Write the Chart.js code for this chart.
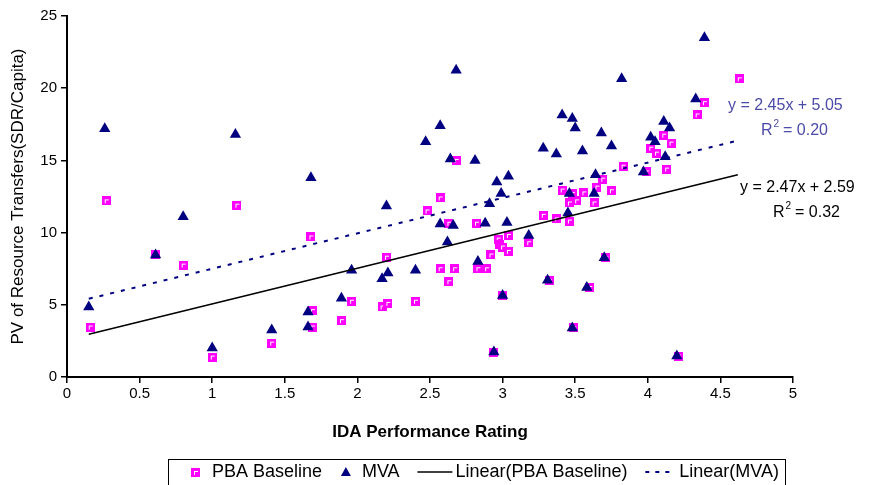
<!DOCTYPE html>
<html>
<head>
<meta charset="utf-8">
<script src="https://cdn.jsdelivr.net/npm/chart.js@4/dist/chart.umd.min.js"></script>
<style>
html, body { margin: 0; padding: 0; background: #fff; }
#wrap { width: 875px; height: 485px; }
</style>
</head>
<body>
<div id="wrap"><canvas id="myChart"></canvas></div>
<script>
// IDA rating (x) and PV of transfers (y)
var pbaX = [0.16, 0.27, 0.61, 0.8, 1.0, 1.17, 1.41, 1.68, 1.69, 1.69, 1.89, 1.96, 2.17, 2.2, 2.21, 2.4,
            2.48, 2.57, 2.57, 2.63, 2.63, 2.67, 2.68, 2.82, 2.83, 2.89, 2.92, 2.94, 2.97, 2.98, 3.0, 3.0,
            3.04, 3.04, 3.18, 3.28, 3.32, 3.37, 3.41, 3.46, 3.46, 3.48, 3.49, 3.51, 3.56, 3.6, 3.63, 3.65,
            3.69, 3.71, 3.75, 3.83, 3.99, 4.02, 4.06, 4.11, 4.13, 4.16, 4.21, 4.34, 4.39, 4.63];
var pbaY = [3.46, 12.2, 8.45, 7.75, 1.38, 11.9, 2.35, 9.7, 4.6, 3.46, 3.9, 5.25, 4.85, 8.3, 5.1, 5.25,
            11.5, 12.4, 7.5, 10.65, 6.6, 7.5, 15.0, 10.65, 7.5, 7.5, 8.45, 1.73, 9.55, 9.15, 9.0, 5.65,
            9.8, 8.7, 9.3, 11.2, 6.7, 10.95, 12.95, 12.05, 10.8, 12.7, 3.4, 12.2, 12.75, 6.2, 12.05, 13.15,
            13.7, 8.25, 12.9, 14.6, 14.2, 15.85, 15.5, 16.75, 14.4, 16.2, 1.45, 18.15, 19.0, 20.65];

var mvaX = [0.15, 0.26, 0.61, 0.8, 1.0, 1.16, 1.41, 1.68, 1.66, 1.66, 1.89, 1.96, 2.17, 2.2, 2.21, 2.4,
            2.47, 2.57, 2.57, 2.62, 2.64, 2.66, 2.68, 2.81, 2.83, 2.88, 2.91, 2.94, 2.96, 2.99, 3.0, 3.03,
            3.04, 3.18, 3.28, 3.31, 3.37, 3.41, 3.45, 3.46, 3.48, 3.48, 3.5, 3.55, 3.58, 3.63, 3.64, 3.68,
            3.7, 3.75, 3.82, 3.97, 4.02, 4.05, 4.11, 4.12, 4.15, 4.2, 4.33, 4.39];
var mvaY = [4.85, 17.2, 8.45, 11.1, 2.0, 16.8, 3.25, 13.8, 4.5, 3.46, 5.45, 7.4, 6.8, 11.85, 7.2, 7.4,
            16.3, 17.4, 10.6, 9.35, 15.1, 10.5, 21.25, 15.0, 8.0, 10.65, 12.0, 1.73, 13.5, 12.7, 5.65, 10.7,
            13.9, 9.8, 15.85, 6.7, 15.45, 18.15, 11.35, 12.7, 17.9, 3.4, 17.25, 15.65, 6.2, 12.7, 14.0, 16.9,
            8.25, 16.0, 20.65, 14.2, 16.6, 16.3, 17.7, 15.25, 17.25, 1.45, 19.25, 23.5];

// linear trend lines as printed on the chart: [slope, intercept], and the x span they cover
var pbaTrend = [2.47, 2.59];
var mvaTrend = [2.45, 5.05];
var trendSpan = [0.15, 4.62];
var pbaR2 = '0.32';
var mvaR2 = '0.20';

var seriesNames = ['PBA Baseline', 'MVA', 'Linear(PBA Baseline)', 'Linear(MVA)'];

function toPoints(xs, ys) {
    return xs.map(function (x, i) { return { x: x, y: ys[i] }; });
}
function trendPoints(t) {
    return trendSpan.map(function (x) { return { x: x, y: t[0] * x + t[1] }; });
}

// magenta square with the little white corner, like the Excel marker
function squareMarker() {
    var c = document.createElement('canvas');
    c.width = 9; c.height = 9;
    var g = c.getContext('2d');
    g.fillStyle = '#FF00FF';
    g.fillRect(0, 0, 9, 9);
    g.fillStyle = '#FFFFFF';
    g.fillRect(3, 3, 4, 1);
    g.fillRect(3, 3, 1, 4);
    return c;
}
var pbaMarker = squareMarker();

var FONT = 'Liberation Sans, Arial, sans-serif';

// legend with a frame around it, items spread over the box
var boxedLegend = {
    id: 'boxedLegend',
    afterDraw: function (chart) {
        var ctx = chart.ctx;
        var ds = chart.data.datasets;
        var cy = 472;
        var left = 168, right = 785;
        ctx.save();
        ctx.font = '18px ' + FONT;
        ctx.textBaseline = 'middle';
        var w = ds.map(function (d) { return ctx.measureText(d.label).width; });
        var symW = [22, 22, 38, 34];
        var used = 0;
        for (var i = 0; i < 4; i++) used += symW[i] + w[i];
        var gap = (right - left - 22 - used - 6) / 3;
        var x = left + 22;

        // PBA marker
        ctx.drawImage(pbaMarker, x + 1, cy - 4);
        ctx.fillStyle = '#000';
        ctx.fillText(ds[0].label, x + symW[0], cy);
        x += symW[0] + w[0] + gap;
        // triangle
        ctx.fillStyle = '#000080';
        ctx.beginPath();
        ctx.moveTo(x + 6, cy - 5);
        ctx.lineTo(x + 11, cy + 4);
        ctx.lineTo(x + 1, cy + 4);
        ctx.closePath();
        ctx.fill();
        ctx.fillStyle = '#000';
        ctx.fillText(ds[1].label, x + symW[1], cy);
        x += symW[1] + w[1] + gap;
        // solid line
        ctx.strokeStyle = '#000';
        ctx.lineWidth = 1.5;
        ctx.beginPath(); ctx.moveTo(x, cy); ctx.lineTo(x + 35, cy); ctx.stroke();
        ctx.fillText(ds[2].label, x + symW[2], cy);
        x += symW[2] + w[2] + gap;
        // dashed line
        ctx.strokeStyle = '#000080';
        ctx.lineWidth = 2;
        ctx.setLineDash([4, 6]);
        ctx.beginPath(); ctx.moveTo(x, cy); ctx.lineTo(x + 30, cy); ctx.stroke();
        ctx.setLineDash([]);
        ctx.fillText(ds[3].label, x + symW[3], cy);
        // frame
        ctx.strokeStyle = '#000';
        ctx.lineWidth = 1;
        ctx.strokeRect(left + 0.5, 459.5, right - left, 26);
        ctx.restore();
    }
};

function drawEquation(ctx, text, r2, x, y, color) {
    ctx.fillStyle = color;
    ctx.font = '16px ' + FONT;
    ctx.fillText(text, x, y);
    var rx = x + 33;
    var ry = y + 25;
    ctx.fillText('R', rx, ry);
    var w = ctx.measureText('R').width;
    ctx.font = '10px ' + FONT;
    ctx.fillText('2', rx + w + 1, ry - 7);
    ctx.font = '16px ' + FONT;
    ctx.fillText(' = ' + r2, rx + w + 6, ry);
}

var equations = {
    id: 'equations',
    afterDatasetsDraw: function (chart) {
        var ctx = chart.ctx;
        ctx.save();
        ctx.textBaseline = 'middle';
        drawEquation(ctx, 'y = ' + mvaTrend[0] + 'x + ' + mvaTrend[1], mvaR2, 728, 106, '#4B4BA8');
        drawEquation(ctx, 'y = ' + pbaTrend[0] + 'x + ' + pbaTrend[1], pbaR2, 740, 188, '#000');
        ctx.restore();
    }
};

var ctx = document.getElementById('myChart').getContext('2d');
var chart = new Chart(ctx, {
    type: 'scatter',
    data: {
        datasets: [{
            label: seriesNames[0],
            data: toPoints(pbaX, pbaY),
            pointStyle: pbaMarker,
            pointRadius: 5,
            order: 3
        }, {
            label: seriesNames[1],
            data: toPoints(mvaX, mvaY),
            pointStyle: 'triangle',
            pointRadius: 6.5,
            backgroundColor: '#000080',
            borderColor: '#000080',
            borderWidth: 0,
            order: 2
        }, {
            label: seriesNames[2],
            data: trendPoints(pbaTrend),
            showLine: true,
            borderColor: '#000',
            borderWidth: 1.6,
            pointRadius: 0,
            order: 1
        }, {
            label: seriesNames[3],
            data: trendPoints(mvaTrend),
            showLine: true,
            borderColor: '#000080',
            borderWidth: 2,
            borderDash: [4, 7],
            pointRadius: 0,
            order: 0
        }]
    },
    options: {
        responsive: true,
        maintainAspectRatio: false,
        animation: false,
        layout: { padding: { left: 0, right: 82, top: 16, bottom: 40 } },
        plugins: {
            legend: { display: false },
            tooltip: { enabled: false }
        },
        scales: {
            x: {
                type: 'linear',
                min: 0,
                max: 5,
                afterFit: function (scale) { scale.height = 68; },
                ticks: {
                    stepSize: 0.5,
                    color: '#000',
                    padding: 2,
                    font: { size: 15, family: FONT },
                    callback: function (v) { return String(Math.round(v * 10) / 10); }
                },
                grid: { drawOnChartArea: false, drawTicks: true, tickLength: 6, color: '#000', lineWidth: 1.5 },
                border: { color: '#000', width: 2 },
                title: {
                    display: true,
                    text: 'IDA Performance Rating',
                    color: '#000',
                    font: { size: 17, weight: 'bold', family: FONT },
                    padding: { top: 0, bottom: 2 }
                }
            },
            y: {
                min: 0,
                max: 25,
                afterFit: function (scale) { scale.width = 67; },
                ticks: { stepSize: 5, color: '#000', padding: 4, font: { size: 15, family: FONT } },
                grid: { drawOnChartArea: false, drawTicks: true, tickLength: 6, color: '#000', lineWidth: 1.5 },
                border: { color: '#000', width: 2 },
                title: {
                    display: true,
                    text: 'PV of Resource Transfers(SDR/Capita)',
                    color: '#000',
                    font: { size: 17, family: FONT },
                    padding: { top: 8, bottom: 0 }
                }
            }
        }
    },
    plugins: [equations, boxedLegend]
});
</script>
</body>
</html>
